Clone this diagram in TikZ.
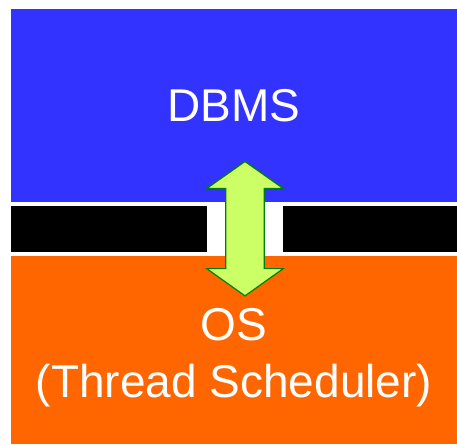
\documentclass[tikz,border=0pt]{standalone}
\usepackage{fontspec}
\setmainfont{Liberation Sans}
\usetikzlibrary{calc,positioning}
\definecolor{dbmsblue}{RGB}{51,51,255}
\definecolor{osorange}{RGB}{255,102,0}
\definecolor{arrowfill}{RGB}{204,255,102}
\definecolor{arrowline}{RGB}{0,128,0}

\begin{document}
\begin{tikzpicture}[x=1pt,y=-1pt,
    layer/.style={inner sep=0pt,outer sep=0pt,text=white,
      font=\fontsize{46}{57}\selectfont,align=center},
    gapbar/.style={fill=black,inner sep=0pt,outer sep=0pt,minimum height=46pt}]
    \useasboundingbox (0,0) rectangle (457,444);
    % DBMS layer on top
    \node[layer,fill=dbmsblue,anchor=north west,minimum width=446pt,
      minimum height=192.7pt] (dbms) at (11,9) {DBMS};
    % black interface bars with the gap in between
    \node[gapbar,minimum width=195.7pt,below=4pt of dbms.south west,
      anchor=north west] (barleft) {};
    \node[gapbar,minimum width=173.7pt,below=4pt of dbms.south east,
      anchor=north east] (barright) {};
    % OS layer below
    \node[fill=osorange,inner sep=0pt,outer sep=0pt,minimum width=446pt,
      minimum height=188pt,below=4.3pt of barleft.south west,
      anchor=north west] (os) {};
    \node[layer,anchor=north] (ostext) at ($(os.north)+(0,52)$)
      {OS\\(Thread Scheduler)};
    % double arrow through the gap
    \coordinate (mid) at ($(barleft.east)!0.5!(barright.west)$);
    \draw[arrowline,line width=1.2pt,line join=miter,fill=arrowfill]
      ($(mid)+(0,-67.2)$) -- ($(mid)+(38.3,-40.2)$) -- ($(mid)+(19.3,-40.2)$)
      -- ($(mid)+(19.3,39.9)$) -- ($(mid)+(38.3,39.9)$) -- ($(mid)+(0,67.2)$)
      -- ($(mid)+(-38.3,39.9)$) -- ($(mid)+(-19.3,39.9)$)
      -- ($(mid)+(-19.3,-40.2)$) -- ($(mid)+(-38.3,-40.2)$) -- cycle;
\end{tikzpicture}
\end{document}
